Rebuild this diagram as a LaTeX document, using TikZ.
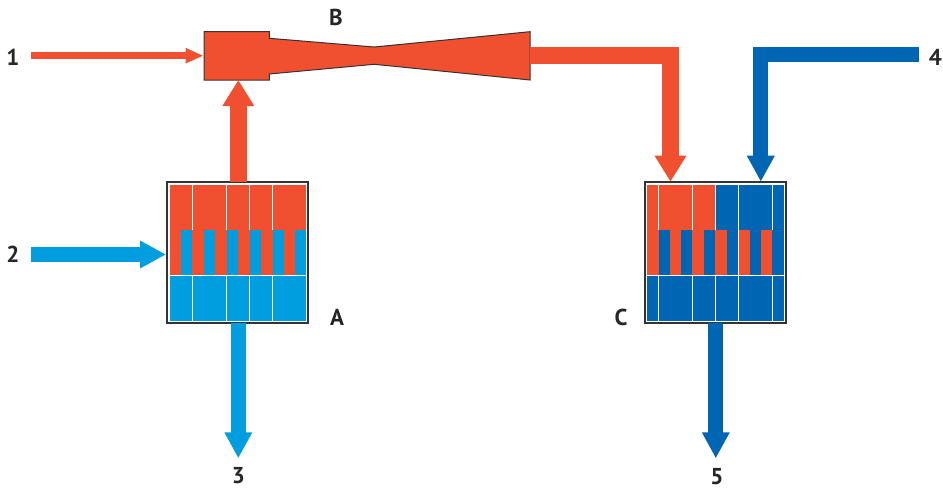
\documentclass[tikz,border=0pt]{standalone}
\usepackage{fontspec}
\setmainfont{PT Sans}
\usetikzlibrary{arrows.meta}
\definecolor{hotcol}{HTML}{F15030}
\definecolor{lightcol}{HTML}{009DDF}
\definecolor{darkcol}{HTML}{0066B3}
\definecolor{edgecol}{HTML}{333333}
\tikzset{
	hxbox/.style={draw=edgecol, line width=1.6pt, fill=white, minimum width=141pt, minimum height=141pt, inner sep=0pt, outer sep=0pt},
	lbl/.style={font=\fontsize{23}{23}\selectfont\bfseries, text=black!85, inner sep=0pt},
	pipe/.style={line width=#1, line join=miter},
	bigtip/.style={-{Triangle[length=26pt, width=#1]}},
}
\begin{document}
\begin{tikzpicture}[x=1pt, y=-1pt]
	\useasboundingbox (0,0) rectangle (943,490);

	\node[hxbox] (boxA) at (237.7,252.7) {};
	\node[hxbox] (boxC) at (715.5,252.7) {};

	%box A
	\fill[hotcol] (169.7,184.7) rectangle (306.3,275.3);
	\fill[lightcol] (169.7,275.3) rectangle (306.3,321);
	\foreach \x/\w in {181/11.3,203.7/11.3,226.7/11.3,249.7/11.3,272.7/11,295/11.3}{
		\fill[lightcol] (\x,229.7) rectangle ++(\w,45.6);
	}
	\foreach \x in {192.3,226.3,249.3,272.3}{
		\draw[white, line width=0.8pt] (\x,184.7) -- (\x,229.7);
		\draw[white, line width=0.8pt] (\x,275.3) -- (\x,321);
	}
	\draw[white, line width=0.8pt] (169.7,275.3) -- (306.3,275.3);

	%box C
	\fill[hotcol] (646.7,184.7) rectangle (715.3,275.3);
	\fill[darkcol] (715.3,184.7) rectangle (784.3,229.7);
	\fill[darkcol] (646.7,275.3) rectangle (784.3,321);
	\foreach \x/\w in {658.6/11,681.2/11,704/11.3,727/11.3,749.9/11,772.3/12}{
		\fill[darkcol] (\x,229.7) rectangle ++(\w,45.6);
	}
	\foreach \x/\w in {715.3/11.7,739/11,761/11.3}{
		\fill[hotcol] (\x,229.7) rectangle ++(\w,45.6);
	}
	\foreach \x in {658.3,692.3,715.3,738.3,772.3}{
		\draw[white, line width=0.8pt] (\x,184.7) -- (\x,229.7);
		\draw[white, line width=0.8pt] (\x,275.3) -- (\x,321);
	}
	\draw[white, line width=0.8pt] (646.7,275.3) -- (784.3,275.3);

	%ejector
	\draw[fill=hotcol, draw=edgecol, line width=1pt] (204,31.7) -- (269.3,31.7) -- (269.3,38.3)
		-- (374.3,47) -- (530,31.7) -- (530,80) -- (374.3,64.3) -- (269.3,74) -- (269.3,80) -- (204,80) -- cycle;

	\coordinate (ejIn) at (203.5,55.7);
	\coordinate (ejBase) at (238.3,80);
	\coordinate (ejOut) at (530,55.8);
	\coordinate (start1) at (31,55.7);
	\coordinate (start2) at (31,254.5);
	\coordinate (start4) at (919.3,54.8);
	\coordinate (portH) at (166,254.5);
	\coordinate (portO) at (670.5,181.7);
	\coordinate (portB) at (760.8,181.7);
	\coordinate (end3) at (238.3,458.3);
	\coordinate (end5) at (715.8,458.3);

	\draw[hotcol, pipe=6.7pt, -{Triangle[length=18pt, width=14.3pt]}] (start1) -- (ejIn);
	\draw[lightcol, pipe=15pt, bigtip=26pt] (start2) -- (portH);
	\draw[hotcol, pipe=17.3pt, bigtip=30pt] (boxA.north -| ejBase) -- (ejBase);
	\draw[lightcol, pipe=15pt, bigtip=26pt] (boxA.south -| end3) -- (end3);
	\draw[hotcol, pipe=17.3pt, bigtip=30pt] (ejOut) -| (portO);
	\draw[darkcol, pipe=15pt, bigtip=26pt] (start4) -| (portB);
	\draw[darkcol, pipe=15pt, bigtip=26pt] (boxC.south -| end5) -- (end5);

	\node[lbl] (lab1) at (13,57) {1};
	\node[lbl] (lab2) at (13,254) {2};
	\node[lbl] (lab3) at (238.5,476) {3};
	\node[lbl] (lab4) at (935.5,57) {4};
	\node[lbl] (lab5) at (717,476.5) {5};
	\node[lbl] (labA) at (337,317) {A};
	\node[lbl] (labB) at (336,17) {B};
	\node[lbl] (labC) at (621,317) {C};
\end{tikzpicture}
\end{document}
